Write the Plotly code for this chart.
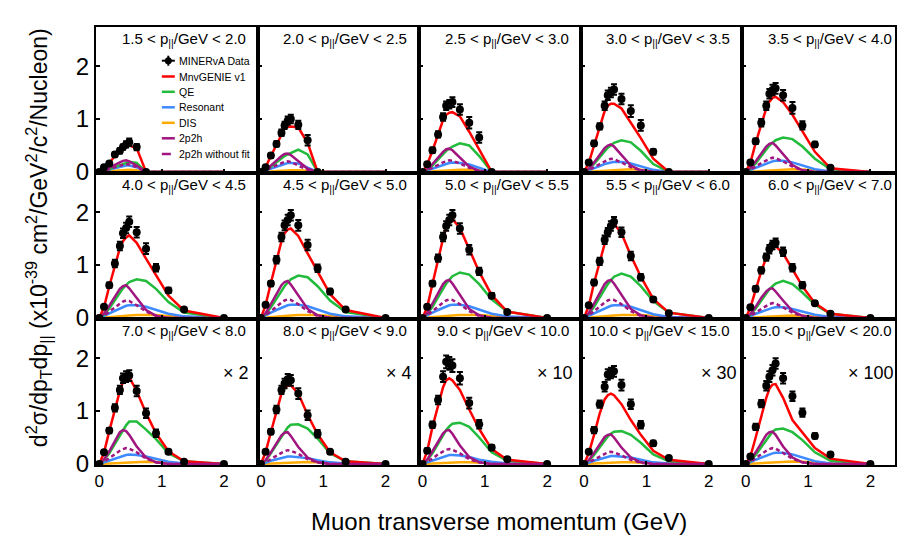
import plotly.graph_objects as go
from plotly.subplots import make_subplots

# transverse momentum bin positions (GeV)
pt = [0, 0.075, 0.16, 0.25, 0.33, 0.38, 0.43, 0.48, 0.6, 0.75, 0.91, 1.11, 1.36, 2.0]

titles = ["1.5 < p<sub>||</sub>/GeV < 2.0", "2.0 < p<sub>||</sub>/GeV < 2.5", "2.5 < p<sub>||</sub>/GeV < 3.0",
          "3.0 < p<sub>||</sub>/GeV < 3.5", "3.5 < p<sub>||</sub>/GeV < 4.0", "4.0 < p<sub>||</sub>/GeV < 4.5",
          "4.5 < p<sub>||</sub>/GeV < 5.0", "5.0 < p<sub>||</sub>/GeV < 5.5", "5.5 < p<sub>||</sub>/GeV < 6.0",
          "6.0 < p<sub>||</sub>/GeV < 7.0", "7.0 < p<sub>||</sub>/GeV < 8.0", "8.0 < p<sub>||</sub>/GeV < 9.0",
          "9.0 < p<sub>||</sub>/GeV < 10.0", "10.0 < p<sub>||</sub>/GeV < 15.0", "15.0 < p<sub>||</sub>/GeV < 20.0"]
scale_labels = ["", "", "", "", "", "", "", "", "", "", "× 2", "× 4", "× 10", "× 30", "× 100"]

N = None
data_vals = [
    [0, .09, .16, .33, .40, .47, .52, .56, .47, 0, N, N, N, N],
    [0, .09, .31, .53, .74, .88, .97, 1.0, .89, .6, 0, N, N, N],
    [0, .145, .41, .71, 1.04, 1.25, 1.28, 1.32, 1.18, .93, .65, 0, N, N],
    [0, .18, .54, .86, 1.25, 1.45, 1.5, 1.56, 1.38, 1.15, .88, .38, 0, N],
    [0, .18, .58, .93, 1.25, 1.48, 1.55, 1.58, 1.45, 1.21, .88, .52, .08, N],
    [0, .21, .62, 1.03, 1.36, 1.6, 1.7, 1.82, 1.62, 1.31, .95, .52, .16, 0],
    [0, .25, .65, 1.1, 1.53, 1.75, 1.85, 1.94, 1.75, 1.38, .94, .5, .16, 0],
    [0, .21, .65, 1.13, 1.53, 1.74, 1.85, 1.94, 1.69, 1.29, .88, .42, .11, 0],
    [0, .24, .67, 1.07, 1.48, 1.62, 1.74, 1.82, 1.62, 1.17, .77, .35, .09, 0],
    [0, .2, .55, .9, 1.15, 1.3, 1.38, 1.42, 1.25, .95, .62, .28, .08, 0],
    [0, .22, .63, 1.06, 1.4, 1.62, 1.65, 1.67, 1.38, .96, .58, .23, .04, 0],
    [0, .23, .61, 1.03, 1.4, 1.52, 1.6, 1.58, 1.33, .92, .57, .23, .04, 0],
    [0, .25, .74, 1.21, 1.65, 1.93, 1.9, 1.86, 1.62, 1.15, .75, .31, .09, 0],
    [0, .23, .64, 1.13, 1.46, 1.69, 1.72, 1.75, 1.49, 1.13, .74, .39, .11, 0],
    [0, .14, .7, 1.14, 1.48, 1.65, 1.77, 1.9, 1.62, 1.28, .97, .53, .18, 0],
]
data_err = [
    [0, .02, .03, .04, .05, .05, .06, .07, .06, 0, N, N, N, N],
    [0, .02, .04, .05, .06, .07, .08, .08, .08, .1, 0, N, N, N],
    [0, .03, .05, .06, .07, .08, .08, .09, .1, .11, .1, 0, N, N],
    [0, .03, .05, .06, .08, .09, .09, .1, .1, .11, .1, .05, 0, N],
    [0, .03, .05, .07, .08, .09, .1, .1, .1, .11, .08, .05, .02, N],
    [0, .03, .05, .07, .08, .09, .1, .1, .1, .1, .07, .05, .03, 0],
    [0, .03, .05, .07, .08, .09, .1, .1, .1, .1, .07, .05, .03, 0],
    [0, .03, .05, .07, .08, .09, .1, .1, .1, .09, .07, .05, .03, 0],
    [0, .03, .05, .07, .08, .08, .09, .09, .09, .08, .06, .04, .02, 0],
    [0, .03, .05, .06, .07, .08, .08, .08, .08, .07, .06, .04, .02, 0],
    [0, .03, .05, .07, .08, .09, .1, .1, .1, .09, .07, .04, .02, 0],
    [0, .03, .05, .07, .08, .09, .1, .1, .1, .09, .07, .04, .02, 0],
    [0, .04, .06, .08, .1, .12, .12, .12, .12, .1, .08, .05, .03, 0],
    [0, .03, .06, .07, .09, .1, .1, .1, .1, .09, .07, .05, .03, 0],
    [0, .03, .06, .07, .09, .1, .1, .1, .1, .09, .08, .05, .03, 0],
]
mnvgenie = [
    [0, .08, .17, .3, .38, .43, .47, .5, .45, 0, 0, 0, 0, 0],
    [0, .09, .3, .52, .72, .82, .85, .86, .84, .55, 0, 0, 0, 0],
    [0, .14, .4, .7, .98, 1.08, 1.12, 1.13, 1.05, .76, .42, 0, 0, 0],
    [0, .17, .5, .84, 1.15, 1.25, 1.29, 1.29, 1.2, .93, .64, .25, 0, 0],
    [0, .17, .55, .9, 1.2, 1.33, 1.4, 1.42, 1.32, 1.08, .76, .38, .07, 0],
    [0, .2, .6, 1.0, 1.32, 1.45, 1.52, 1.56, 1.42, 1.12, .8, .42, .14, 0],
    [0, .24, .66, 1.1, 1.45, 1.6, 1.67, 1.69, 1.55, 1.22, .87, .45, .15, 0],
    [0, .2, .64, 1.12, 1.5, 1.7, 1.82, 1.87, 1.7, 1.3, .87, .43, .12, 0],
    [0, .23, .66, 1.06, 1.45, 1.62, 1.72, 1.78, 1.6, 1.18, .78, .36, .1, 0],
    [0, .19, .53, .88, 1.14, 1.27, 1.34, 1.36, 1.22, .92, .6, .28, .08, 0],
    [0, .21, .62, 1.04, 1.38, 1.55, 1.62, 1.64, 1.38, .96, .58, .24, .05, 0],
    [0, .22, .6, 1.0, 1.33, 1.44, 1.48, 1.49, 1.33, .93, .56, .22, .05, 0],
    [0, .24, .7, 1.12, 1.45, 1.58, 1.62, 1.58, 1.4, 1.03, .66, .28, .08, 0],
    [0, .2, .55, .95, 1.22, 1.3, 1.33, 1.3, 1.13, .83, .55, .25, .08, 0],
    [0, .14, .5, .9, 1.25, 1.42, 1.5, 1.51, 1.25, .83, .6, .3, .1, 0],
]
qe = [
    [0, .02, .05, .09, .13, .15, .17, .19, .17, 0, 0, 0, 0, 0],
    [0, .03, .1, .18, .26, .3, .33, .36, .42, .33, 0, 0, 0, 0],
    [0, .04, .12, .24, .34, .4, .44, .48, .54, .5, .3, 0, 0, 0],
    [0, .05, .15, .28, .4, .46, .5, .55, .6, .56, .4, .15, 0, 0],
    [0, .05, .16, .3, .43, .5, .55, .6, .65, .62, .48, .25, .05, 0],
    [0, .06, .18, .34, .48, .56, .62, .68, .73, .7, .55, .3, .1, 0],
    [0, .07, .2, .37, .52, .6, .67, .73, .8, .77, .6, .33, .11, 0],
    [0, .07, .21, .4, .56, .65, .72, .79, .86, .82, .64, .35, .12, 0],
    [0, .07, .21, .39, .55, .64, .71, .78, .84, .78, .6, .32, .1, 0],
    [0, .06, .18, .33, .46, .54, .6, .65, .7, .64, .48, .25, .08, 0],
    [0, .07, .2, .38, .55, .65, .73, .8, .8, .65, .47, .2, .05, 0],
    [0, .06, .2, .37, .52, .62, .69, .74, .75, .67, .48, .2, .05, 0],
    [0, .07, .2, .38, .54, .64, .71, .76, .78, .7, .5, .22, .06, 0],
    [0, .06, .17, .31, .44, .52, .57, .61, .62, .55, .4, .18, .05, 0],
    [0, .05, .17, .32, .46, .55, .61, .65, .67, .6, .45, .22, .06, 0],
]
resonant = [
    [0, .02, .04, .07, .09, .11, .12, .12, .09, 0, 0, 0, 0, 0],
    [0, .03, .07, .11, .14, .16, .17, .17, .16, .08, 0, 0, 0, 0],
    [0, .03, .07, .11, .14, .16, .17, .18, .17, .14, .08, 0, 0, 0],
    [0, .03, .07, .11, .15, .17, .18, .19, .19, .16, .1, .04, 0, 0],
    [0, .03, .08, .12, .16, .18, .2, .21, .21, .18, .12, .05, .01, 0],
    [0, .04, .09, .14, .18, .21, .23, .24, .24, .21, .15, .08, .03, 0],
    [0, .04, .1, .15, .19, .22, .24, .25, .25, .22, .16, .08, .03, 0],
    [0, .04, .1, .15, .19, .22, .24, .25, .25, .22, .16, .08, .03, 0],
    [0, .04, .09, .14, .18, .21, .23, .24, .24, .21, .15, .07, .02, 0],
    [0, .03, .08, .12, .16, .18, .19, .2, .2, .17, .12, .06, .02, 0],
    [0, .03, .07, .11, .14, .16, .17, .18, .17, .14, .09, .04, .01, 0],
    [0, .02, .06, .09, .11, .13, .14, .14, .13, .11, .07, .03, .01, 0],
    [0, .03, .07, .11, .14, .16, .17, .17, .16, .13, .08, .04, .01, 0],
    [0, .02, .06, .09, .12, .14, .15, .15, .14, .12, .08, .03, .01, 0],
    [0, .03, .08, .12, .16, .18, .2, .21, .21, .18, .12, .05, .01, 0],
]
dis = [
    [0, .005, .01, .02, .025, .03, .035, .04, .03, 0, 0, 0, 0, 0],
    [0, .005, .01, .02, .025, .03, .03, .03, .03, .02, 0, 0, 0, 0],
    [0, .005, .01, .02, .025, .03, .035, .035, .04, .04, .03, 0, 0, 0],
    [0, .005, .01, .02, .025, .03, .035, .04, .045, .05, .04, .02, 0, 0],
    [0, .005, .01, .02, .025, .03, .035, .04, .05, .05, .045, .025, .005, 0],
    [0, .005, .01, .02, .03, .035, .04, .045, .055, .06, .055, .035, .015, 0],
    [0, .005, .01, .02, .03, .035, .04, .045, .055, .06, .055, .035, .015, 0],
    [0, .005, .01, .02, .03, .035, .04, .045, .055, .06, .055, .035, .015, 0],
    [0, .005, .01, .02, .03, .035, .04, .045, .055, .06, .055, .035, .015, 0],
    [0, .005, .01, .015, .02, .025, .03, .035, .04, .045, .04, .03, .01, 0],
    [0, .005, .01, .015, .02, .025, .03, .035, .04, .04, .035, .02, .005, 0],
    [0, .005, .01, .015, .02, .02, .025, .03, .035, .035, .03, .02, .005, 0],
    [0, .005, .01, .015, .02, .025, .025, .03, .03, .03, .025, .015, .005, 0],
    [0, .005, .01, .015, .02, .02, .025, .025, .03, .03, .025, .015, .005, 0],
    [0, .005, .01, .02, .025, .03, .035, .04, .045, .045, .04, .025, .01, 0],
]
mec = [
    [0, .03, .08, .14, .18, .21, .22, .2, .12, 0, 0, 0, 0, 0],
    [0, .04, .12, .22, .3, .34, .35, .32, .2, .06, 0, 0, 0, 0],
    [0, .05, .15, .28, .38, .43, .44, .41, .27, .1, .02, 0, 0, 0],
    [0, .06, .18, .33, .45, .5, .52, .48, .32, .12, .03, 0, 0, 0],
    [0, .07, .2, .36, .48, .53, .55, .5, .34, .13, .03, 0, 0, 0],
    [0, .08, .23, .41, .55, .6, .62, .56, .38, .15, .04, 0, 0, 0],
    [0, .09, .26, .46, .62, .68, .7, .63, .42, .17, .05, 0, 0, 0],
    [0, .09, .27, .48, .64, .7, .72, .65, .43, .17, .05, 0, 0, 0],
    [0, .09, .27, .48, .64, .7, .72, .65, .43, .17, .05, 0, 0, 0],
    [0, .07, .21, .38, .5, .55, .56, .5, .33, .13, .04, 0, 0, 0],
    [0, .08, .24, .44, .6, .64, .62, .55, .33, .12, .03, 0, 0, 0],
    [0, .07, .22, .4, .54, .59, .6, .53, .32, .12, .03, 0, 0, 0],
    [0, .08, .24, .43, .58, .63, .64, .57, .35, .13, .03, 0, 0, 0],
    [0, .07, .21, .38, .51, .55, .56, .5, .31, .12, .03, 0, 0, 0],
    [0, .07, .22, .4, .55, .6, .61, .55, .33, .12, .03, 0, 0, 0],
]
mec_nofit = [
    [0, .02, .05, .09, .12, .14, .15, .14, .09, 0, 0, 0, 0, 0],
    [0, .03, .08, .13, .17, .19, .2, .19, .12, .04, 0, 0, 0, 0],
    [0, .03, .08, .14, .18, .2, .22, .21, .16, .08, .02, 0, 0, 0],
    [0, .03, .09, .15, .2, .23, .25, .24, .18, .09, .03, 0, 0, 0],
    [0, .04, .1, .17, .22, .25, .27, .26, .2, .1, .03, 0, 0, 0],
    [0, .04, .12, .2, .27, .31, .33, .32, .24, .12, .04, 0, 0, 0],
    [0, .05, .13, .22, .29, .33, .35, .34, .26, .13, .04, 0, 0, 0],
    [0, .05, .13, .22, .29, .33, .35, .34, .26, .13, .04, 0, 0, 0],
    [0, .05, .13, .22, .29, .33, .35, .34, .26, .13, .04, 0, 0, 0],
    [0, .04, .1, .17, .23, .26, .28, .27, .2, .1, .03, 0, 0, 0],
    [0, .04, .11, .19, .25, .28, .3, .29, .22, .1, .03, 0, 0, 0],
    [0, .03, .09, .16, .21, .24, .26, .25, .19, .09, .03, 0, 0, 0],
    [0, .04, .1, .18, .24, .27, .28, .27, .2, .09, .03, 0, 0, 0],
    [0, .03, .08, .14, .19, .22, .23, .22, .16, .08, .02, 0, 0, 0],
    [0, .04, .11, .19, .25, .28, .3, .29, .21, .1, .03, 0, 0, 0],
]

RED = "#ff0000"
GREEN = "#22bb3c"
BLUE = "#3d8bff"
ORANGE = "#ffaa00"
PURPLE = "#a0157f"
FONT = "Liberation Sans, Arial, sans-serif"

W, H = 897, 541
ML, MR, MT, MB = 96, 0, 27, 76
PW = W - ML - MR
PH = H - MT - MB

fig = make_subplots(rows=3, cols=5, column_widths=[162, 162, 162, 162, 153],
                    horizontal_spacing=0, vertical_spacing=0)

for i in range(15):
    r, c = i // 5 + 1, i % 5 + 1
    series = [
        (dis[i], ORANGE, "solid"),
        (resonant[i], BLUE, "solid"),
        (qe[i], GREEN, "solid"),
        (mnvgenie[i], RED, "solid"),
        (mec_nofit[i], PURPLE, "4px,3px"),
        (mec[i], PURPLE, "solid"),
    ]
    for vals, col, dash in series:
        fig.add_trace(go.Scatter(x=pt, y=vals, mode="lines", line=dict(color=col, width=2.5, dash=dash),
                                 showlegend=False, hoverinfo="skip"), row=r, col=c)
    fig.add_trace(go.Scatter(x=pt, y=data_vals[i], mode="markers",
                             marker=dict(color="black", size=8),
                             error_y=dict(type="data", array=data_err[i], color="black", thickness=2, width=3),
                             showlegend=False), row=r, col=c)
    xr = [-0.053, 2.395] if c == 5 else [-0.053, 2.54]
    fig.update_xaxes(range=xr, tickvals=[0, 1, 2], ticks="inside", ticklen=4, tickwidth=1.5,
                     tickcolor="black", showline=True, linecolor="black", linewidth=2, mirror=True,
                     showgrid=False, zeroline=False, showticklabels=(r == 3),
                     tickfont=dict(family=FONT, size=17, color="black"), row=r, col=c)
    fig.update_yaxes(range=[-0.02, 2.74], tickvals=[0, 1, 2], ticks="inside", ticklen=4, tickwidth=1.5,
                     tickcolor="black", showline=True, linecolor="black", linewidth=2, mirror=True,
                     showgrid=False, zeroline=False, showticklabels=(c == 1),
                     tickfont=dict(family=FONT, size=24, color="black"), row=r, col=c)

annotations = []
for i in range(15):
    r, c = i // 5, i % 5
    sub = "" if i == 0 else str(i + 1)
    annotations.append(dict(text=titles[i], xref=f"x{sub} domain", yref=f"y{sub} domain",
                            x=1, y=1, xanchor="right", yanchor="top", xshift=-10 if c < 4 else -1, yshift=-1,
                            showarrow=False, font=dict(family=FONT, size=15, color="black")))
    if scale_labels[i]:
        annotations.append(dict(text=scale_labels[i], xref=f"x{sub} domain", yref=f"y{sub} domain",
                                x=0, y=1, xanchor="left", yanchor="middle",
                                xshift=[125, 126, 116, 118, 104][c], yshift=-54,
                                showarrow=False, font=dict(family=FONT, size=18, color="black")))


def px_x(px):
    return (px - ML) / PW


def px_y(py):
    return (H - MB - py) / PH


# y-axis and x-axis titles
annotations.append(dict(text="d<sup>2</sup>σ/dp<sub>T</sub>dp<sub>||</sub> (x10<sup>-39</sup> cm<sup>2</sup>/GeV<sup>2</sup>/c<sup>2</sup>/Nucleon)",
                        xref="paper", yref="paper", x=px_x(38), y=px_y(238), textangle=-90,
                        xanchor="center", yanchor="middle", showarrow=False,
                        font=dict(family=FONT, size=23, color="black")))
annotations.append(dict(text="Muon transverse momentum (GeV)", xref="paper", yref="paper",
                        x=px_x(500), y=px_y(521), xanchor="center", yanchor="middle", showarrow=False,
                        font=dict(family=FONT, size=24, color="black")))

# manual legend inside the first panel
legend_labels = ["MINERvA Data", "MnvGENIE v1", "QE", "Resonant", "DIS", "2p2h", "2p2h without fit"]
legend_colors = ["black", RED, GREEN, BLUE, ORANGE, PURPLE, PURPLE]
legend_dash = ["solid", "solid", "solid", "solid", "solid", "solid", "dash"]
legend_rows = [60.7, 76.5, 91.8, 107.3, 122.8, 138.3, 154]
shapes = []
for lab, col, dsh, yy in zip(legend_labels, legend_colors, legend_dash, legend_rows):
    shapes.append(dict(type="line", xref="paper", yref="paper", x0=px_x(162), x1=px_x(175),
                       y0=px_y(yy), y1=px_y(yy), line=dict(color=col, width=2.5 if col != "black" else 2, dash=dsh)))
    annotations.append(dict(text=lab, xref="paper", yref="paper", x=px_x(177), y=px_y(yy),
                            xanchor="left", yanchor="middle", showarrow=False,
                            font=dict(family=FONT, size=10.5, color="black")))
# data symbol: marker plus vertical error bar
shapes.append(dict(type="line", xref="paper", yref="paper", x0=px_x(168.5), x1=px_x(168.5),
                   y0=px_y(legend_rows[0] - 5), y1=px_y(legend_rows[0] + 5), line=dict(color="black", width=2)))
shapes.append(dict(type="circle", xref="paper", yref="paper", x0=px_x(165), x1=px_x(172),
                   y0=px_y(legend_rows[0] - 3.5), y1=px_y(legend_rows[0] + 3.5),
                   fillcolor="black", line=dict(color="black", width=0)))

fig.update_layout(width=W, height=H, margin=dict(l=ML, r=MR, t=MT, b=MB),
                  plot_bgcolor="white", paper_bgcolor="white", showlegend=False,
                  annotations=annotations, shapes=shapes,
                  font=dict(family=FONT, color="black"))

fig.write_html("out.html")
